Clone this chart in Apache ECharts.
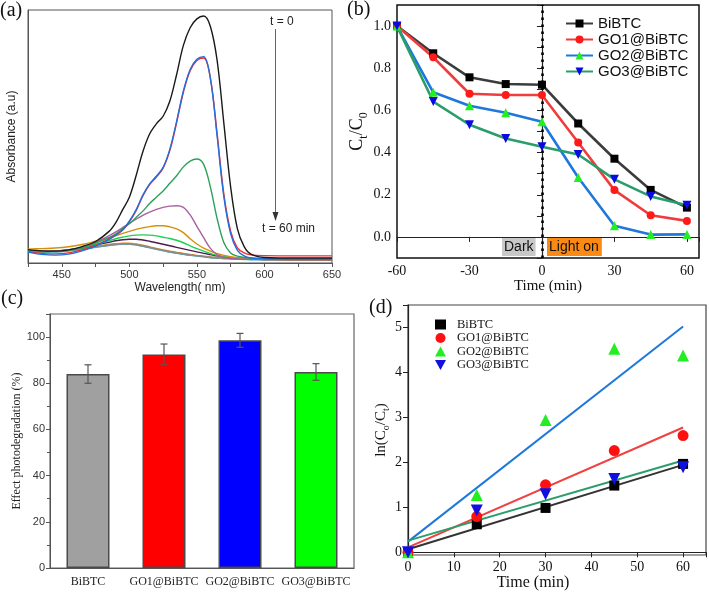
<!DOCTYPE html>
<html><head><meta charset="utf-8">
<script src="https://cdn.jsdelivr.net/npm/echarts@6/dist/echarts.min.js"></script>
<style>html,body{margin:0;padding:0;background:#fff}#c{width:709px;height:593px}</style>
</head><body><div id="c"></div>
<script>
// ---------- (a) UV-vis spectra ----------
var wavelengths = [425,435,445,455,465,475,485,490,495,500,505,510,515,520,525,530,535,540,545,550,555,560,565,570,575,580,585,590,600,625,650];
var specT0  = [0.053,0.048,0.047,0.052,0.065,0.085,0.125,0.16,0.21,0.26,0.345,0.44,0.51,0.55,0.58,0.64,0.745,0.86,0.93,0.965,0.976,0.935,0.80,0.55,0.30,0.135,0.065,0.035,0.022,0.02,0.02];
var specT1  = [0.045,0.038,0.036,0.04,0.052,0.07,0.095,0.11,0.13,0.163,0.207,0.265,0.31,0.34,0.375,0.445,0.555,0.675,0.76,0.80,0.81,0.73,0.51,0.27,0.125,0.06,0.04,0.032,0.029,0.028,0.028];
var specT2  = [0.043,0.034,0.031,0.035,0.048,0.067,0.093,0.11,0.13,0.165,0.21,0.268,0.313,0.343,0.378,0.45,0.56,0.68,0.765,0.805,0.815,0.73,0.50,0.26,0.115,0.05,0.028,0.02,0.017,0.016,0.016];
var specT3  = [0.05,0.046,0.045,0.05,0.06,0.078,0.10,0.115,0.135,0.155,0.18,0.205,0.235,0.26,0.285,0.315,0.345,0.38,0.403,0.411,0.39,0.30,0.175,0.08,0.04,0.027,0.022,0.02,0.017,0.015,0.015];
var specT4  = [0.05,0.048,0.048,0.053,0.063,0.082,0.108,0.123,0.14,0.157,0.173,0.188,0.201,0.212,0.22,0.225,0.226,0.22,0.19,0.145,0.10,0.058,0.033,0.022,0.018,0.016,0.015,0.015,0.014,0.013,0.013];
var specT5  = [0.055,0.057,0.059,0.064,0.073,0.086,0.10,0.108,0.117,0.125,0.133,0.139,0.144,0.147,0.147,0.143,0.135,0.12,0.096,0.075,0.059,0.047,0.037,0.03,0.025,0.021,0.018,0.016,0.014,0.013,0.013];
var specT6  = [0.046,0.045,0.047,0.052,0.06,0.074,0.088,0.096,0.102,0.107,0.11,0.111,0.11,0.107,0.102,0.097,0.09,0.08,0.068,0.057,0.047,0.038,0.03,0.025,0.022,0.02,0.018,0.016,0.015,0.014,0.014];
var specT7  = [0.045,0.045,0.047,0.052,0.06,0.071,0.082,0.088,0.092,0.094,0.094,0.091,0.086,0.08,0.074,0.068,0.062,0.056,0.05,0.044,0.038,0.033,0.028,0.024,0.021,0.019,0.017,0.016,0.015,0.014,0.014];
var specT8  = [0.048,0.046,0.046,0.05,0.056,0.064,0.071,0.074,0.076,0.076,0.073,0.068,0.062,0.056,0.05,0.045,0.04,0.036,0.032,0.029,0.026,0.023,0.021,0.019,0.018,0.017,0.016,0.015,0.014,0.012,0.012];
var specT9  = [0.05,0.048,0.048,0.052,0.057,0.065,0.073,0.076,0.078,0.078,0.075,0.07,0.064,0.058,0.052,0.047,0.042,0.038,0.034,0.03,0.027,0.024,0.022,0.02,0.019,0.018,0.017,0.016,0.015,0.013,0.013];
var specT10 = [0.047,0.045,0.045,0.049,0.055,0.063,0.07,0.073,0.075,0.075,0.072,0.067,0.061,0.055,0.049,0.044,0.039,0.035,0.031,0.028,0.025,0.022,0.02,0.018,0.017,0.016,0.015,0.014,0.013,0.012,0.012];
var specT11 = [0.045,0.043,0.043,0.047,0.054,0.062,0.069,0.072,0.074,0.074,0.071,0.066,0.06,0.054,0.048,0.043,0.038,0.034,0.03,0.027,0.024,0.021,0.019,0.017,0.016,0.015,0.014,0.013,0.012,0.011,0.011];
var spectra = [specT0, specT1, specT2, specT3, specT4, specT5, specT6, specT7, specT8, specT9, specT10, specT11];
var spectraColors = ['#1a1a1a','#ff2a2a','#1f6fe0','#2ca05a','#a8619f','#d4900c','#1ed050','#4b1f4b','#8a8a8a','#e88020','#4aa8a8','#6ab6e6'];
var spectraZ = [20,18,19,17,16,15,14,13,12,11,10,9];

// ---------- (b) Ct/C0 vs time ----------
var timeB = [-60,-45,-30,-15,0,15,30,45,60];
var names = ['BiBTC','GO1@BiBTC','GO2@BiBTC','GO3@BiBTC'];
var ctBiBTC = [1.0,0.871,0.757,0.725,0.722,0.538,0.371,0.223,0.139];
var ctGO1   = [1.0,0.852,0.679,0.673,0.673,0.448,0.222,0.103,0.076];
var ctGO2   = [1.0,0.686,0.622,0.589,0.546,0.282,0.053,0.011,0.012];
var ctGO3   = [1.0,0.642,0.532,0.467,0.428,0.391,0.273,0.192,0.150];

// ---------- (c) efficiency bars ----------
var effVals = [84.0, 92.5, 98.6, 84.9];
var effErr  = [4.0, 4.5, 3.0, 3.6];

// ---------- (d) kinetics ----------
var timeD = [0,15,30,45,60];
var lnBiBTC = [0,0.623,0.987,1.484,1.966];
var lnGO1   = [0,0.794,1.50,2.263,2.596];
var lnGO2   = [0,1.276,2.94,4.525,4.377];
var lnGO3   = [0,0.927,1.29,1.632,1.89];
var fitX      = [0,60];
var fitBiBTC  = [0.067,1.944];
var fitGO1    = [0.111,2.775];
var fitGO2    = [0.237,5.02];
var fitGO3    = [0.26,2.04];

var SANS = 'Liberation Sans, Arial, sans-serif';
var SERIF = 'Liberation Serif, Times New Roman, serif';
var DOWN_TRI = 'path://M0,0 L10,0 L5,9 Z';

function zip(xs, ys){ return xs.map(function(x,i){ return [x, ys[i]]; }); }

var series = [];
// (a)
spectra.forEach(function(s, i){
  series.push({type:'line', xAxisIndex:0, yAxisIndex:0, data: zip(wavelengths, s), smooth:0.35,
    showSymbol:false, symbol:'none', lineStyle:{color:spectraColors[i], width:1.4}, z: spectraZ[i], silent:true});
});
// (b)
var lineColsB = ['#3c3c3c','#f03c3c','#1e78dc','#2a9e6a'];
var markColsB = ['#000000','#ff1a1a','#22ee22','#0a0ae0'];
var symB = ['rect','circle','triangle',DOWN_TRI];
var ctArr = [ctBiBTC, ctGO1, ctGO2, ctGO3];
ctArr.forEach(function(arr, i){
  series.push({type:'line', name:names[i], xAxisIndex:1, yAxisIndex:1, data: zip(timeB, arr),
    symbol:symB[i], symbolSize: i===0?8:(i===1?8:9),
    lineStyle:{color:lineColsB[i], width:2.6}, itemStyle:{color:markColsB[i]}, z: 10});
});
series.push({type:'line', xAxisIndex:1, yAxisIndex:1, data:[], silent:true,
  markLine:{silent:true, symbol:'none', label:{show:false},
    lineStyle:{color:'#000', width:2.6, type:[2.5,4.5]}, data:[{xAxis:0}]}});
// (c)
var barColors = ['#a0a0a0','#ff0000','#0000ff','#00ff00'];
series.push({type:'bar', xAxisIndex:2, yAxisIndex:2, barWidth:43,
  data: effVals.map(function(v,i){ return {value:v, itemStyle:{color:barColors[i], borderColor:'#4a4a4a', borderWidth:1.5}}; })});
series.push({type:'custom', xAxisIndex:2, yAxisIndex:2, z:5,
  data: effVals.map(function(v,i){ return [i, v - effErr[i], v + effErr[i]]; }),
  renderItem: function(params, api){
    var x = api.value(0), lo = api.value(1), hi = api.value(2);
    var p1 = api.coord([x, hi]), p2 = api.coord([x, lo]);
    var c = 3.5, st = {stroke:'#555', lineWidth:1.2};
    return {type:'group', children:[
      {type:'line', shape:{x1:p1[0], y1:p1[1], x2:p2[0], y2:p2[1]}, style:st},
      {type:'line', shape:{x1:p1[0]-c, y1:p1[1], x2:p1[0]+c, y2:p1[1]}, style:st},
      {type:'line', shape:{x1:p2[0]-c, y1:p2[1], x2:p2[0]+c, y2:p2[1]}, style:st}
    ]};
  }});
// (d)
var fitCols = ['#333333','#f04040','#1e78dc','#2a9e6a'];
var fitArr = [fitBiBTC, fitGO1, fitGO2, fitGO3];
fitArr.forEach(function(arr, i){
  series.push({type:'line', xAxisIndex:3, yAxisIndex:3, data: zip(fitX, arr), symbol:'none',
    lineStyle:{color:fitCols[i], width:2}, silent:true, z:3});
});
var lnArr = [lnBiBTC, lnGO1, lnGO2, lnGO3];
var markColsD = ['#000000','#ff1010','#22ee22','#1010e0'];
lnArr.forEach(function(arr, i){
  series.push({type:'scatter', name:'d:' + names[i], xAxisIndex:3, yAxisIndex:3, data: zip(timeD, arr),
    symbol:symB[i], symbolSize: i===0?10:(i===1?11:12),
    itemStyle:{color:markColsD[i], opacity:1}, z:6});
});

var axisLineDark = {show:true, lineStyle:{color:'#222', width:1.2}};

var option = {
  animation:false,
  backgroundColor:'#fff',
  grid:[
    {left:28, top:10, width:304, height:253, show:true, borderColor:'#555', borderWidth:1, backgroundColor:'transparent'},
    {left:397, top:5, width:302, height:253, show:true, borderColor:'#111', borderWidth:1.5, backgroundColor:'transparent'},
    {left:50, top:314, width:304, height:254, show:true, borderColor:'#666', borderWidth:1.2, backgroundColor:'transparent'},
    {left:408, top:305, width:298, height:250, show:true, borderColor:'#444', borderWidth:1.2, backgroundColor:'transparent'}
  ],
  xAxis:[
    {gridIndex:0, type:'value', min:425, max:650, interval:25, name:'Wavelength( nm)', nameLocation:'middle', nameGap:19,
      nameTextStyle:{fontFamily:SANS, fontSize:12, color:'#222'},
      axisLine:{show:true, lineStyle:{color:'#555'}}, axisTick:{show:true, length:4, lineStyle:{color:'#555'}},
      splitLine:{show:false},
      axisLabel:{fontFamily:SANS, fontSize:11, color:'#333', margin:6,
        formatter:function(v){ return (v % 50 === 0) ? String(v) : ''; }}},
    {gridIndex:1, type:'value', min:-60, max:65, interval:30, name:'Time (min)', nameLocation:'middle', nameGap:19,
      nameTextStyle:{fontFamily:SERIF, fontSize:15, color:'#111'},
      axisLine:axisLineDark, axisTick:{show:true, length:5, lineStyle:{color:'#222'}}, splitLine:{show:false},
      axisLabel:{fontFamily:SERIF, fontSize:14, color:'#111', margin:6,
        formatter:function(v){ return (v % 30 === 0) ? String(v) : ''; }}},
    {gridIndex:2, type:'category', data:names,
      axisLine:{show:true, lineStyle:{color:'#555'}}, axisTick:{show:false}, splitLine:{show:false},
      axisLabel:{fontFamily:SERIF, fontSize:12, color:'#222', margin:8, interval:0, hideOverlap:false}},
    {gridIndex:3, type:'value', min:0, max:65, interval:10, name:'Time (min)', nameLocation:'middle', nameGap:19,
      nameTextStyle:{fontFamily:SERIF, fontSize:16, color:'#111', padding:[0,48,0,0]},
      axisLine:axisLineDark, axisTick:{show:true, length:5, lineStyle:{color:'#222'}}, splitLine:{show:false},
      axisLabel:{fontFamily:SERIF, fontSize:14, color:'#111', margin:5,
        formatter:function(v){ return (v % 10 === 0) ? String(v) : ''; }}}
  ],
  yAxis:[
    {gridIndex:0, type:'value', min:0, max:1, name:'Absorbance (a.u)', nameLocation:'middle', nameGap:10,
      nameTextStyle:{fontFamily:SANS, fontSize:12, color:'#222'},
      axisLine:{show:true, lineStyle:{color:'#555'}}, axisTick:{show:false}, axisLabel:{show:false}, splitLine:{show:false}},
    {gridIndex:1, type:'value', min:-0.1, max:1.1, interval:0.1,
      name:'{m|C}{s|t}{m|/C}{s|0}', nameLocation:'middle', nameGap:24,
      nameTextStyle:{rich:{
        m:{fontFamily:SERIF, fontSize:18, color:'#111', verticalAlign:'top'},
        s:{fontFamily:SERIF, fontSize:12, color:'#111', verticalAlign:'top', padding:[9,0,0,0]}}},
      axisLine:axisLineDark, splitLine:{show:false},
      axisTick:{show:true, length:5, lineStyle:{color:'#222'},
        interval:function(i, v){ var k = Math.round(parseFloat(v)*10); return k >= 0 && k <= 10 && k % 2 === 0; }},
      axisLabel:{fontFamily:SERIF, fontSize:14, color:'#111', margin:6,
        formatter:function(v){ var k = Math.round(v*10); return (k >= 0 && k <= 10 && k % 2 === 0) ? (k/10).toFixed(1) : ''; }}},
    {gridIndex:2, type:'value', min:0, max:110, interval:20, name:'Effect photodegradation (%)', nameLocation:'middle', nameGap:25,
      nameTextStyle:{fontFamily:SERIF, fontSize:12, color:'#222'},
      axisLine:{show:true, lineStyle:{color:'#555'}}, axisTick:{show:true, length:4, lineStyle:{color:'#555'}},
      minorTick:{show:true, splitNumber:2, length:3, lineStyle:{color:'#555'}},
      splitLine:{show:false},
      axisLabel:{fontFamily:SANS, fontSize:11, color:'#333', margin:5,
        formatter:function(v){ return v <= 100 ? String(v) : ''; }}},
    {gridIndex:3, type:'value', min:-0.06, max:5.5, splitNumber:5,
      name:'{m|ln(C}{s|o}{m|/C}{s|t}{m|)}', nameLocation:'middle', nameGap:16,
      nameTextStyle:{rich:{
        m:{fontFamily:SERIF, fontSize:15, color:'#111', verticalAlign:'top'},
        s:{fontFamily:SERIF, fontSize:10, color:'#111', verticalAlign:'top', padding:[8,0,0,0]}}},
      axisLine:axisLineDark, splitLine:{show:false},
      axisTick:{show:true, length:5, lineStyle:{color:'#222'}},
      axisLabel:{fontFamily:SERIF, fontSize:14, color:'#111', margin:6,
        formatter:function(v){ return (Math.abs(v - Math.round(v)) < 1e-6) ? String(Math.round(v)) : ''; }}}
  ],
  legend:[
    {data:names, orient:'vertical', left:560, top:11, itemWidth:27, itemHeight:10, itemGap:1,
      textStyle:{fontFamily:SANS, fontSize:15, color:'#111', lineHeight:15}, selectedMode:false},
    {data:names.map(function(n){ return 'd:' + n; }), orient:'vertical', left:430, top:313, itemWidth:11, itemHeight:10, itemGap:0.5,
      formatter:function(n){ return n.replace('d:',''); },
      textStyle:{fontFamily:SERIF, fontSize:12.5, color:'#111', lineHeight:11, padding:[0,0,0,6]}, selectedMode:false}
  ],
  graphic:[
    {type:'text', left:0, top:1, style:{text:'(a)', font:'20px ' + SERIF, fill:'#111'}},
    {type:'text', left:347, top:0, style:{text:'(b)', font:'20px ' + SERIF, fill:'#111'}},
    {type:'text', left:1, top:289, style:{text:'(c)', font:'20px ' + SERIF, fill:'#111'}},
    {type:'text', left:369, top:298, style:{text:'(d)', font:'20px ' + SERIF, fill:'#111'}},
    {type:'text', left:270, top:16, style:{text:'t = 0', font:'12px ' + SANS, fill:'#222'}},
    {type:'line', shape:{x1:275.5, y1:29, x2:275.5, y2:214}, style:{stroke:'#666', lineWidth:1}},
    {type:'polygon', shape:{points:[[272.5,212],[278.5,212],[275.5,221]]}, style:{fill:'#333'}},
    {type:'text', left:262, top:223, style:{text:'t = 60 min', font:'12px ' + SANS, fill:'#222'}},
    {type:'text', left:502, top:238, z:50, style:{text:'Dark', font:'14px ' + SANS, fill:'#111', backgroundColor:'#c8c8c8', padding:[2,2,2,2]}},
    {type:'text', left:547, top:238, z:50, style:{text:'Light on', font:'14px ' + SANS, fill:'#111', backgroundColor:'#fa8a14', padding:[2,3,2,2]}}
  ],
  series: series
};
var chart = echarts.init(document.getElementById('c'), null, {renderer:'canvas'});
chart.setOption(option);
</script></body></html>
